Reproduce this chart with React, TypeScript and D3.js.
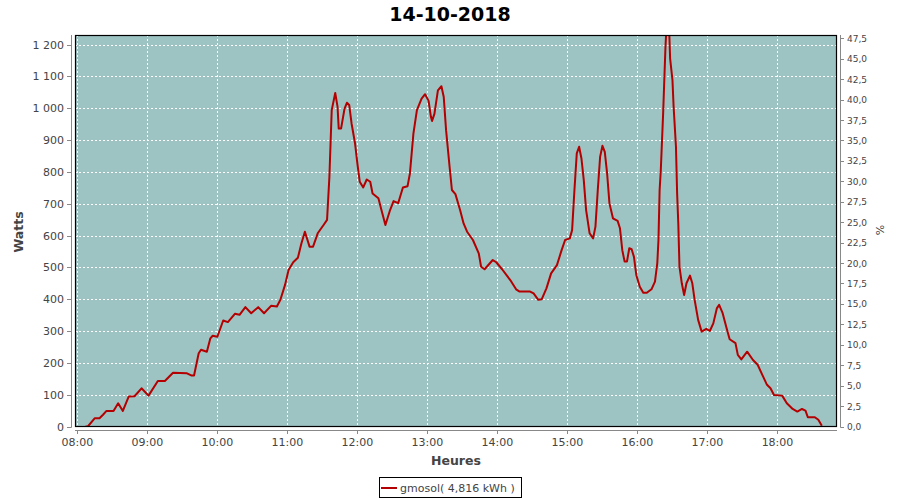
import React from "react";
import * as d3 from "d3";

const TITLE = "14-10-2018";
const SERIES_NAME = "gmosol( 4,816 kWh )";
const X_LABEL = "Heures";
const Y_LABEL = "Watts";
const Y2_LABEL = "%";

const times = [
  "08:07","08:09","08:15","08:19","08:22","08:25","08:31","08:35","08:39","08:44","08:49","08:55",
  "09:01","09:09","09:15","09:22","09:34","09:38","09:40","09:44","09:46","09:51","09:54","09:56",
  "10:00","10:05","10:09","10:15","10:19","10:24","10:29","10:35","10:40","10:46","10:51","10:54","10:58",
  "11:01","11:05","11:09","11:12","11:15","11:19","11:22","11:26","11:31","11:34","11:36","11:38","11:41",
  "11:43","11:44","11:46","11:49","11:51","11:53","11:55","11:58",
  "12:00","12:02","12:05","12:08","12:11","12:13","12:18","12:21","12:24","12:28","12:31","12:35","12:39",
  "12:43","12:45","12:48","12:51","12:55","12:58",
  "13:01","13:03","13:04","13:06","13:09","13:12","13:14","13:16","13:19","13:21","13:24","13:28","13:31",
  "13:34","13:39","13:44","13:46","13:49","13:56","13:59",
  "14:04","14:11","14:16","14:19","14:28","14:31","14:35","14:38","14:42","14:46","14:51","14:55","14:58",
  "15:02","15:04","15:06","15:08","15:10","15:12","15:14","15:16","15:19","15:22","15:24","15:26","15:28",
  "15:30","15:32","15:34","15:36","15:39","15:43","15:45","15:47","15:49","15:51","15:53","15:55","15:57","15:59",
  "16:02","16:05","16:08","16:12","16:15","16:17","16:18","16:19","16:20","16:22","16:23","16:24","16:25",
  "16:27","16:28","16:30","16:31","16:33","16:34","16:35","16:36","16:38","16:40","16:42","16:45","16:47",
  "16:49","16:52","16:55","16:59",
  "17:02","17:05","17:08","17:10","17:13","17:16","17:19","17:24","17:26","17:29","17:34","17:39","17:43",
  "17:47","17:51","17:54","17:57",
  "18:04","18:08","18:13","18:17","18:21","18:24","18:26","18:32","18:35","18:38"
];

const watts = [
  0,0,26,26,37,49,49,73,49,94,95,120,
  97,143,143,169,167,160,160,230,241,235,277,285,
  282,333,328,354,351,375,356,375,356,379,377,398,445,
  492,516,530,575,612,565,565,607,633,649,784,994,1048,
  1004,936,936,999,1017,1010,952,889,
  826,769,751,776,769,732,717,675,633,680,708,702,751,
  755,795,920,994,1030,1044,
  1023,973,960,982,1056,1069,1035,931,816,743,730,680,638,
  612,586,544,502,494,523,516,
  494,460,431,424,424,418,398,400,434,481,507,554,586,
  591,617,743,858,879,842,774,680,607,591,628,743,847,
  882,863,795,701,654,646,623,554,518,518,560,557,533,476,
  439,420,420,431,455,513,586,743,805,983,1088,1192,1265,
  1265,1156,1088,1004,879,732,638,502,450,413,450,474,450,
  398,335,298,307,
  300,324,371,382,356,314,274,262,225,211,235,209,194,
  162,131,120,99,
  97,73,55,47,55,50,29,29,21,2
];

const xTicks = ["08:00","09:00","10:00","11:00","12:00","13:00","14:00","15:00","16:00","17:00","18:00"];
const yTicks = [0,100,200,300,400,500,600,700,800,900,1000,1100,1200];
const y2Ticks = [0,2.5,5,7.5,10,12.5,15,17.5,20,22.5,25,27.5,30,32.5,35,37.5,40,42.5,45,47.5];

const toMin = (s: string) => { const [h, m] = s.split(":").map(Number); return h * 60 + m; };

export default function App() {
  const W = 900, H = 500;
  const L = 75, R = 837, T = 35, B = 426.5;
  const x = d3.scaleLinear().domain([toMin("07:58"), toMin("18:51")]).range([L, R]);
  const y = d3.scaleLinear().domain([0, 1230]).range([B, T]);
  const y2 = d3.scaleLinear().domain([0, 47.9]).range([B, T]);
  const loc = d3.formatLocale({ decimal: ",", thousands: "\u00a0", grouping: [3], currency: ["", ""] });
  const fy = loc.format(",");
  const fy2 = loc.format(".1f");
  const data = times.map((t, i) => ({ t: toMin(t), v: watts[i] }));
  const line = d3.line<{ t: number; v: number }>().x(d => x(d.t)).y(d => y(d.v));
  const font = "'DejaVu Sans', sans-serif";
  const axisCol = "#888";
  const txtCol = "#444";

  return (
    <svg width={W} height={H} style={{ position: "absolute", left: 0, top: 0, background: "#fff" }} fontFamily={font}>
      <defs>
        <clipPath id="plotclip"><rect x={L} y={T} width={R - L} height={B - T} /></clipPath>
      </defs>
      <rect x={0} y={0} width={W} height={H} fill="#fff" />
      <text x={450} y={21} textAnchor="middle" fontSize={19} fontWeight="bold" fill="#000">{TITLE}</text>
      <rect x={L} y={T} width={R - L} height={B - T} fill="#9dc3c2" />
      {yTicks.map(v => (
        <line key={"gy" + v} x1={L} x2={R} y1={Math.round(y(v)) + 0.5} y2={Math.round(y(v)) + 0.5} stroke="#fff" strokeDasharray="2,2" strokeWidth={1} />
      ))}
      {xTicks.map(t => (
        <line key={"gx" + t} x1={Math.round(x(toMin(t))) + 0.5} x2={Math.round(x(toMin(t))) + 0.5} y1={T} y2={B} stroke="#fff" strokeDasharray="2,2" strokeWidth={1} />
      ))}
      <path d={line(data) || ""} fill="none" stroke="#b40000" strokeWidth={2} strokeLinejoin="round" clipPath="url(#plotclip)" />
      <rect x={L + 0.5} y={T + 0.5} width={R - L - 1} height={B - T - 0.5} fill="none" stroke="#000" strokeWidth={1.2} />
      {/* left axis */}
      <line x1={71.5} x2={71.5} y1={T} y2={B + 1} stroke={axisCol} />
      {yTicks.map(v => (
        <g key={"ty" + v}>
          <line x1={67} x2={71.5} y1={Math.round(y(v)) + 0.5} y2={Math.round(y(v)) + 0.5} stroke={axisCol} />
          <text x={64} y={y(v) + 4} textAnchor="end" fontSize={11} fill={txtCol}>{fy(v)}</text>
        </g>
      ))}
      {/* right axis */}
      <line x1={840.5} x2={840.5} y1={T} y2={B + 1} stroke={axisCol} />
      {y2Ticks.map(v => (
        <g key={"ty2" + v}>
          <line x1={840.5} x2={844} y1={Math.round(y2(v)) + 0.5} y2={Math.round(y2(v)) + 0.5} stroke={axisCol} />
          <text x={847} y={y2(v) + 3.5} textAnchor="start" fontSize={9} fill={txtCol}>{fy2(v)}</text>
        </g>
      ))}
      {/* bottom axis */}
      <line x1={L} x2={R} y1={430.5} y2={430.5} stroke={axisCol} />
      {xTicks.map(t => (
        <g key={"tx" + t}>
          <line x1={Math.round(x(toMin(t))) + 0.5} x2={Math.round(x(toMin(t))) + 0.5} y1={430.5} y2={434} stroke={axisCol} />
          <text x={x(toMin(t))} y={446} textAnchor="middle" fontSize={11} fill={txtCol}>{t}</text>
        </g>
      ))}
      <text x={456} y={465} textAnchor="middle" fontSize={12.5} fontWeight="bold" fill={txtCol}>{X_LABEL}</text>
      <text transform="translate(23,232) rotate(-90)" textAnchor="middle" fontSize={12.5} fontWeight="bold" fill={txtCol}>{Y_LABEL}</text>
      <text transform="translate(884,230) rotate(-90)" textAnchor="middle" fontSize={11} fill={txtCol}>{Y2_LABEL}</text>
      {/* legend */}
      <rect x={379.5} y={477.5} width={142} height={20} fill="#fff" stroke="#000" />
      <line x1={381} x2={397} y1={488} y2={488} stroke="#b40000" strokeWidth={2} />
      <text x={400} y={492} fontSize={11} fill={txtCol}>{SERIES_NAME}</text>
    </svg>
  );
}
